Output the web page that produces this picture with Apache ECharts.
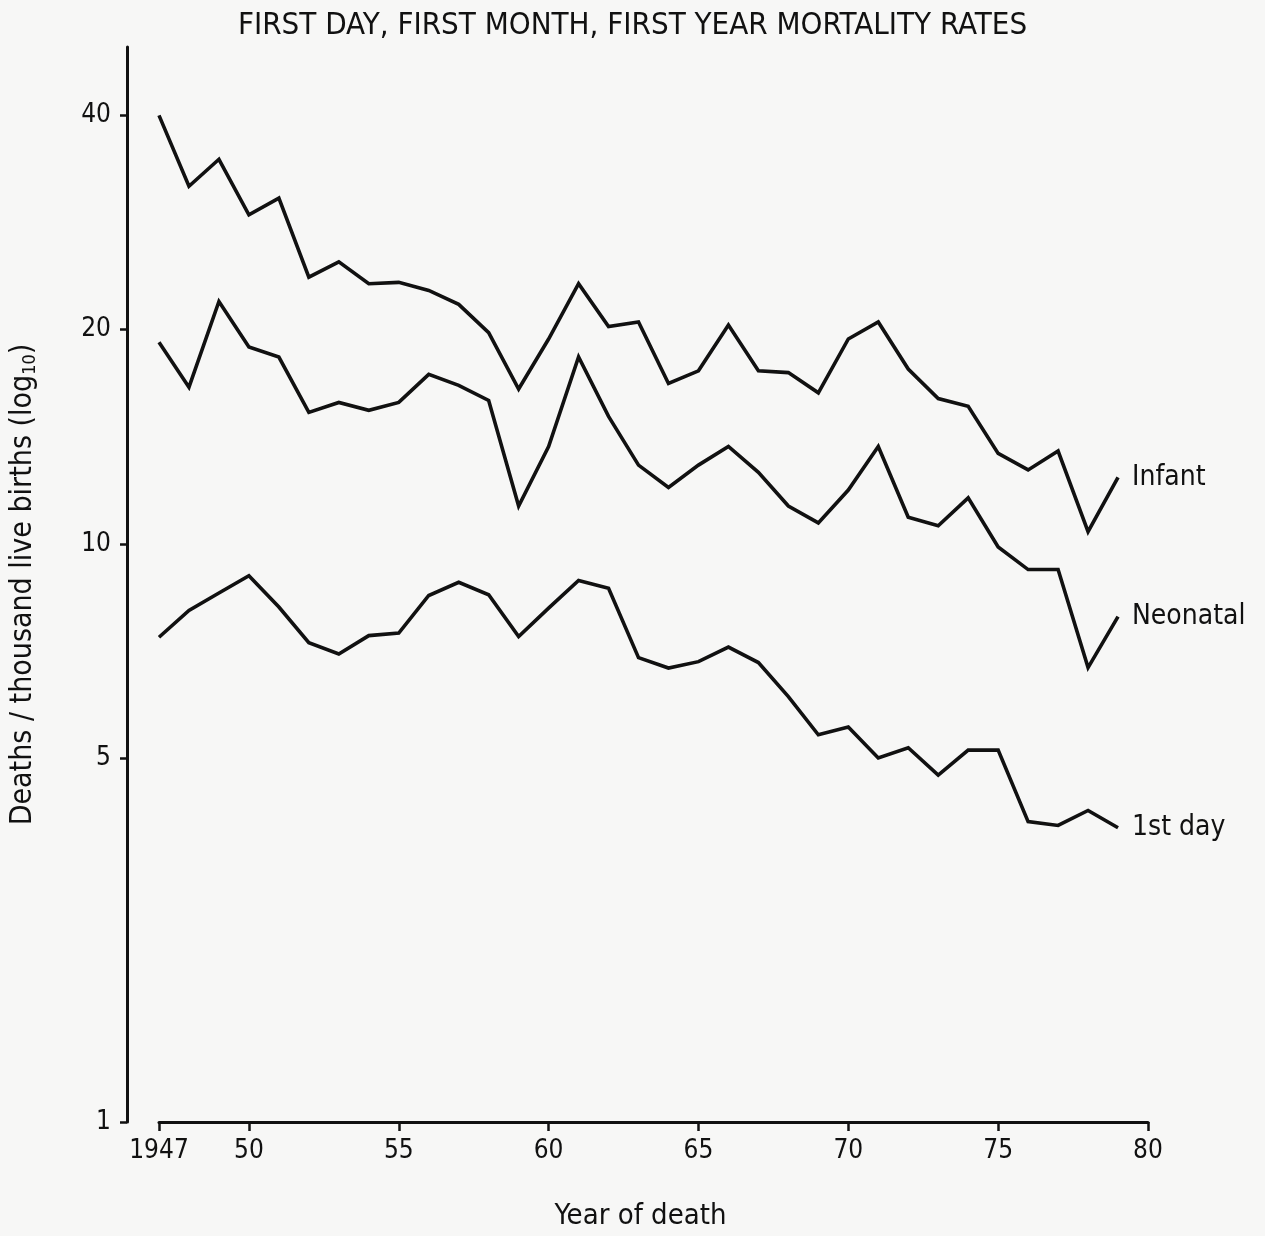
<!DOCTYPE html>
<html>
<head>
<meta charset="utf-8">
<script src="https://cdn.jsdelivr.net/npm/echarts@6/dist/echarts.min.js"></script>
<style>
html,body{margin:0;padding:0;background:#f7f7f6;}
#chart{width:1265px;height:1236px;}
</style>
</head>
<body>
<div id="chart"></div>
<script>
// Years of death
const years = [1947,1948,1949,1950,1951,1952,1953,1954,1955,1956,1957,1958,1959,1960,1961,1962,1963,
  1964,1965,1966,1967,1968,1969,1970,1971,1972,1973,1974,1975,1976,1977,1978,1979];
// Deaths per thousand live births
const infant = [40.0,31.8,34.7,29.0,30.6,23.7,24.9,23.2,23.3,22.7,21.7,19.8,16.5,19.4,23.2,20.2,20.5,
  16.8,17.5,20.3,17.5,17.4,16.3,19.4,20.5,17.6,16.0,15.6,13.4,12.7,13.5,10.4,12.4];
const neonatal = [19.2,16.6,21.9,18.9,18.3,15.3,15.8,15.4,15.8,17.3,16.7,15.9,11.3,13.7,18.3,15.1,12.9,
  12.0,12.9,13.7,12.6,11.3,10.7,11.9,13.7,10.9,10.6,11.6,9.9,9.2,9.2,6.7,7.9];
const firstDay = [7.39,8.06,8.53,9.02,8.15,7.26,7.0,7.43,7.49,8.46,8.83,8.48,7.41,8.12,8.88,8.66,6.92,
  6.69,6.83,7.16,6.81,6.10,5.39,5.53,5.00,5.17,4.73,5.13,5.13,4.07,4.02,4.22,3.99];
const seriesNames = ['Infant','Neonatal','1st day'];
// Axis ticks
const xTicks = [1947,1950,1955,1960,1965,1970,1975,1980];
const Y_MIN = 1.54, Y_MAX = 49.9;
const yTicks = [Y_MIN,5,10,20,40];

const FONT = '"DejaVu Sans Condensed","DejaVu Sans",sans-serif';
const INK = '#111';

function pairs(vals){ return years.map((y,i)=>[y, vals[i]]); }
function lineSeries(name, vals){
  return {
    type:'line', name:name, data:pairs(vals), showSymbol:false, symbol:'none',
    lineStyle:{color:INK,width:3.6,join:'miter'}, animation:false,
    endLabel:{show:true, formatter:'{a}', color:INK, fontFamily:FONT, fontSize:28, distance:14}
  };
}

const chart = echarts.init(document.getElementById('chart'), null, {renderer:'canvas'});
chart.setOption({
  backgroundColor:'#f7f7f6',
  animation:false,
  title:{text:'FIRST DAY, FIRST MONTH, FIRST YEAR MORTALITY RATES', left:'center', top:5,
    textStyle:{fontFamily:FONT, fontSize:31, fontWeight:'normal', color:INK}},
  grid:{left:158, right:117, top:47, bottom:113, containLabel:false},
  xAxis:{
    type:'value', min:1947, max:1980,
    name:'Year of death', nameLocation:'middle', nameGap:80,
    nameTextStyle:{fontFamily:FONT, fontSize:29, color:INK, padding:[0,26,0,0]},
    axisLine:{onZero:false, lineStyle:{color:INK,width:3}},
    axisTick:{customValues:xTicks, length:9, lineStyle:{color:INK,width:2.5}},
    axisLabel:{customValues:xTicks, margin:16, fontFamily:FONT, fontSize:26, color:INK,
      formatter:v => v===1947 ? '1947' : String(v).slice(2)},
    splitLine:{show:false}
  },
  yAxis:{
    type:'log', logBase:10, min:Y_MIN, max:Y_MAX, offset:32,
    name:'Deaths / thousand live births (log{sub|10})', nameLocation:'middle', nameGap:88, nameRotate:90,
    nameTextStyle:{fontFamily:FONT, fontSize:30, color:INK,
      rich:{sub:{fontFamily:FONT, fontSize:18, color:INK, verticalAlign:'bottom', padding:[14,0,0,0]}}},
    axisLine:{show:true, lineStyle:{color:INK,width:3}},
    axisTick:{show:true, customValues:yTicks, length:7, lineStyle:{color:INK,width:2.5}},
    axisLabel:{customValues:yTicks, margin:16, fontFamily:FONT, fontSize:26, color:INK,
      formatter:v => v < 2 ? '1' : String(v)},
    splitLine:{show:false}, minorTick:{show:false}
  },
  series:[
    lineSeries(seriesNames[0], infant),
    lineSeries(seriesNames[1], neonatal),
    lineSeries(seriesNames[2], firstDay)
  ]
});
</script>
</body>
</html>
